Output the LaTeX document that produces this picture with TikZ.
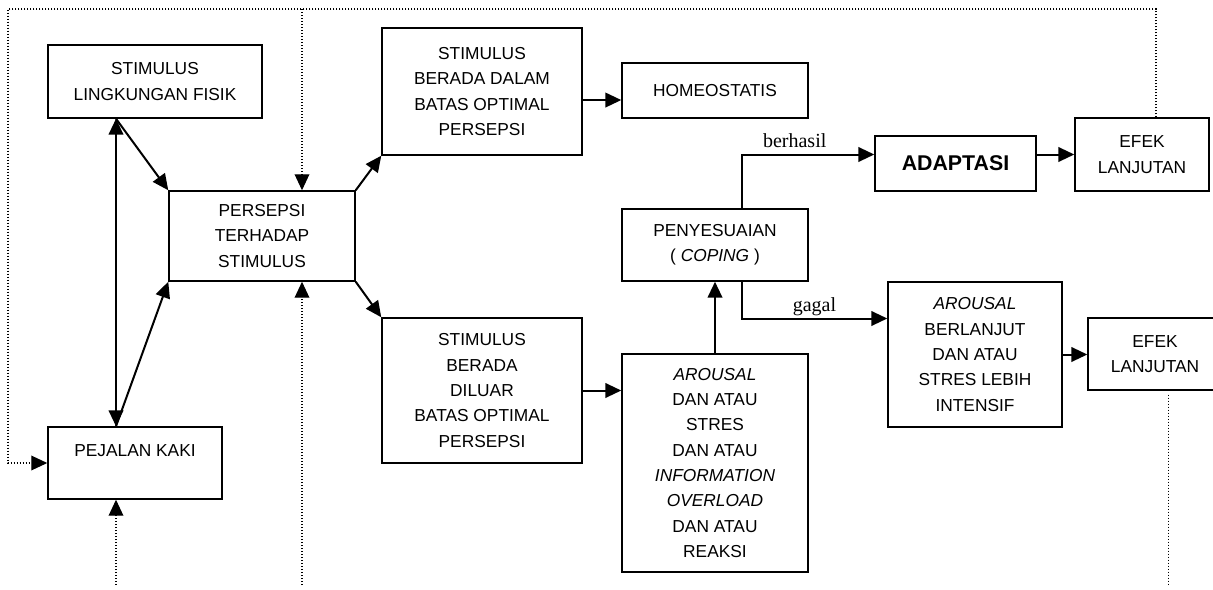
\documentclass[tikz,border=0pt]{standalone}
\usepackage{fontspec}
\setmainfont{Liberation Sans}
\newfontfamily\hurufket{Liberation Serif}
\usetikzlibrary{arrows.meta,calc}

\begin{document}
\begin{tikzpicture}[x=0.75pt, y=-0.75pt,
  kotak/.style={rectangle, draw=black, line width=1.1pt, inner sep=0pt,
      font=\fontsize{13}{19}\selectfont, align=center},
  panah/.style={-{Triangle[length=12pt,width=11pt]}, line width=1.5pt},
  panahdua/.style={{Triangle[length=12pt,width=11pt]}-{Triangle[length=12pt,width=11pt]}, line width=1.5pt},
  titik/.style={line width=1pt, dash pattern=on 1pt off 1.25pt},
  ket/.style={font=\hurufket\fontsize{15}{18}\selectfont, inner sep=0pt, anchor=base, yshift=4.9pt}]
\useasboundingbox (0,0) rectangle (1213,589);
\node[kotak, minimum width=160.5pt, minimum height=54.75pt] (stimulus) at (155,81.5) {STIMULUS\\LINGKUNGAN FISIK};
\node[kotak, minimum width=139.5pt, minimum height=67.5pt] (persepsi) at (262,236) {PERSEPSI\\TERHADAP\\STIMULUS};
\node[kotak, minimum width=130.5pt, minimum height=54pt] (pejalan) at (135,463) {PEJALAN KAKI\\\phantom{X}};
\node[kotak, minimum width=150pt, minimum height=95.25pt] (dalam) at (482,91.5) {STIMULUS\\BERADA DALAM\\BATAS OPTIMAL\\PERSEPSI};
\node[kotak, minimum width=150pt, minimum height=108.75pt] (luar) at (482,390.5) {STIMULUS\\BERADA\\DILUAR\\BATAS OPTIMAL\\PERSEPSI};
\node[kotak, minimum width=139.5pt, minimum height=41.25pt] (homeo) at (715,90.5) {HOMEOSTATIS};
\node[kotak, minimum width=139.5pt, minimum height=54pt] (coping) at (715,245) {PENYESUAIAN\\( \textit{COPING} )};
\node[kotak, minimum width=139.5pt, minimum height=163.5pt] (arousal) at (715,463)
  {\textit{AROUSAL}\\DAN ATAU\\STRES\\DAN ATAU\\\textit{INFORMATION}\\\textit{OVERLOAD}\\DAN ATAU\\REAKSI};
\node[kotak, minimum width=120.75pt, minimum height=41.25pt, font=\bfseries\fontsize{16}{19}\selectfont] (adaptasi) at (955.5,163.5) {ADAPTASI};
\node[kotak, minimum width=100.5pt, minimum height=54.75pt] (efeka) at (1142,154.5) {EFEK\\LANJUTAN};
\node[kotak, minimum width=130.5pt, minimum height=108.75pt] (berlanjut) at (975,354.5) {\textit{AROUSAL}\\BERLANJUT\\DAN ATAU\\STRES LEBIH\\INTENSIF};
\node[kotak, minimum width=100.5pt, minimum height=54pt] (efekb) at (1155,354) {EFEK\\LANJUTAN};
\coordinate (sudut) at (8,9);
\coordinate (bawah) at (0,585);
\coordinate (kiri) at (116,0);
\coordinate (kolom) at (302,0);
\draw[panahdua] (kiri |- stimulus.south) -- (kiri |- pejalan.north);
\draw[panah] (kiri |- stimulus.south) -- (persepsi.north west);
\draw[panah] (kiri |- pejalan.north) -- (persepsi.south west);
\draw[panah] (persepsi.north east) -- (dalam.south west);
\draw[panah] (persepsi.south east) -- (luar.north west);
\draw[panah] ([yshift=-6.4pt]dalam.east) -- ([yshift=-6.4pt]dalam.east -| homeo.west);
\draw[panah] (luar.east) -- (luar.east -| arousal.west);
\draw[panah] (arousal.north) -- (coping.south);
\draw[panah] ([xshift=20pt]coping.north) |- node[ket, pos=0.7] {berhasil} (adaptasi.west |- efeka.west);
\draw[panah] ([xshift=20pt]coping.south) |- node[ket, pos=0.75] {gagal} ([yshift=27pt]berlanjut.west);
\draw[panah] (adaptasi.east |- efeka.west) -- (efeka.west);
\draw[panah] (berlanjut.east) -- (berlanjut.east -| efekb.west);
\draw[titik, panah, line width=1pt] ([xshift=10.5pt]efeka.north) |- (sudut) |- (pejalan.west);
\draw[titik, panah, line width=1pt] (kolom |- sudut) -- (kolom |- persepsi.north);
\draw[titik, panah, line width=1pt] (kolom |- bawah) -- (kolom |- persepsi.south);
\draw[titik, panah, line width=1pt] (kiri |- bawah) -- (kiri |- pejalan.south);
\draw[titik] ([xshift=10pt,yshift=-3pt]efekb.south) -- ([xshift=10pt]efekb.south |- bawah);
\end{tikzpicture}
\end{document}
